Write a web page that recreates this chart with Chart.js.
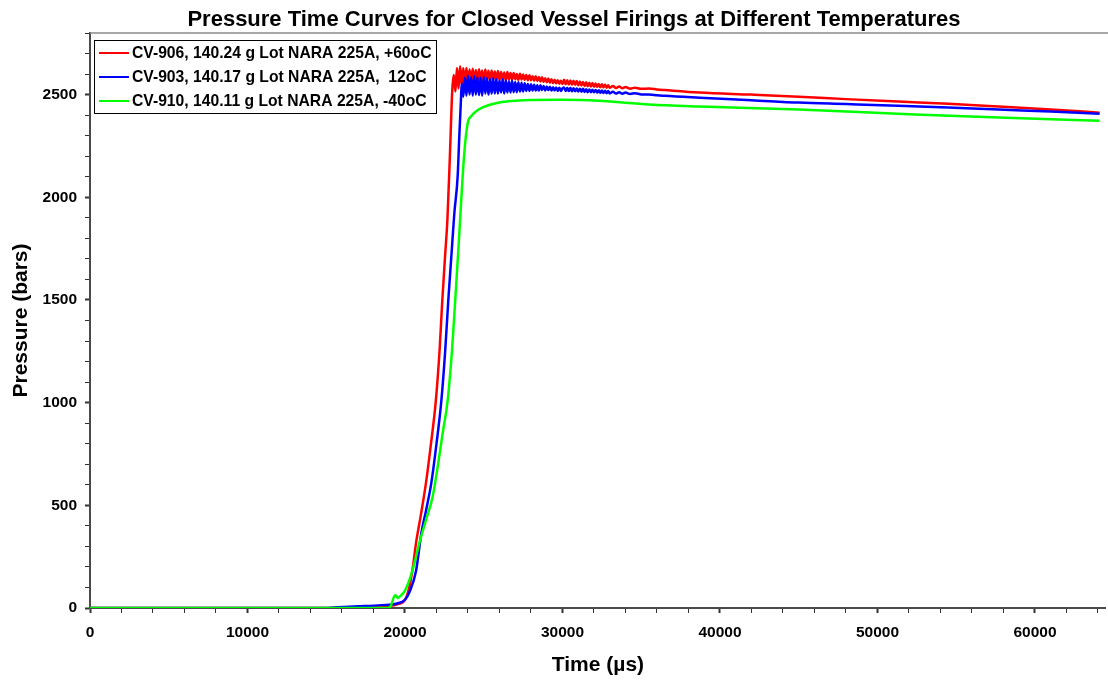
<!DOCTYPE html>
<html>
<head>
<meta charset="utf-8">
<script src="https://cdn.jsdelivr.net/npm/chart.js@4/dist/chart.umd.min.js"></script>
<style>
  body { margin: 0; background: #fff; }
  #wrap { width: 1108px; height: 680px; }
</style>
</head>
<body>
<div id="wrap"><canvas id="pressureChart" width="1108" height="680"></canvas></div>
<script>
// closed vessel firings, time in microseconds, pressure in bars
const chartTitle = "Pressure Time Curves for Closed Vessel Firings at Different Temperatures";
const seriesNames = [
    "CV-906, 140.24 g Lot NARA 225A, +60oC",
    "CV-903, 140.17 g Lot NARA 225A,  12oC",
    "CV-910, 140.11 g Lot NARA 225A, -40oC"
];

// tick marks every 2000 us, labelled every 10000 us
const xTickValues = [0, 2000, 4000, 6000, 8000, 10000, 12000, 14000, 16000, 18000, 20000,
    22000, 24000, 26000, 28000, 30000, 32000, 34000, 36000, 38000, 40000,
    42000, 44000, 46000, 48000, 50000, 52000, 54000, 56000, 58000, 60000, 62000, 64000];
const xLabelValues = [0, 10000, 20000, 30000, 40000, 50000, 60000];
const yLabelValues = [0, 500, 1000, 1500, 2000, 2500];

const redTime = [0, 15000, 17000, 18500, 19500, 20000, 20300, 20500, 20700, 21000, 21330, 21650, 21960,
    22200, 22370, 22550, 22690, 22850, 23000,
    23100, 23200, 23300, 23400, 23500, 23600, 23700, 23800, 23900, 24000,
    24100, 24200, 24300, 24400, 24500, 24600, 24700, 24800, 24900, 25000,
    25100, 25200, 25300, 25400, 25500, 25600, 25700, 25800, 25900, 26000,
    26100, 26200, 26300, 26400, 26500, 26600, 26700, 26800, 26900, 27000,
    27100, 27200, 27300, 27400, 27500, 27600, 27700, 27800, 27900, 28000,
    28100, 28200, 28300, 28400, 28500, 28600, 28700, 28800, 28900, 29000,
    29100, 29200, 29300, 29400, 29500, 29600, 29700, 29800, 29900, 30000,
    30100, 30200, 30300, 30400, 30500, 30600, 30700, 30800, 30900, 31000,
    31100, 31200, 31300, 31400, 31500, 31600, 31700, 31800, 31900, 32000,
    32100, 32200, 32300, 32400, 32500, 32600, 32700, 32800, 32900, 33000,
    33200, 33400, 33600, 33800, 34000, 34300, 34600, 35000, 35500, 36000,
    36500, 38700, 42000, 45000, 48000, 51300, 54500, 57700, 61000, 64100];
const redPressure = [0, 0, 3, 8, 18, 40, 110, 200, 316, 450, 608, 800, 1011,
    1260, 1500, 1720, 1887, 2200, 2520,
    2595, 2515, 2630, 2530, 2638, 2548, 2628, 2552, 2630, 2558,
    2622, 2560, 2626, 2564, 2620, 2562, 2624, 2568, 2618, 2565,
    2622, 2570, 2616, 2568, 2618, 2572, 2612, 2570, 2615, 2572,
    2610, 2572, 2608, 2570, 2610, 2574, 2605, 2572, 2605, 2575,
    2600, 2572, 2602, 2574, 2598, 2572, 2596, 2570, 2594, 2570,
    2590, 2568, 2590, 2566, 2586, 2564, 2584, 2562, 2580, 2560,
    2578, 2558, 2575, 2556, 2572, 2555, 2570, 2553, 2568, 2552,
    2572, 2550, 2570, 2549, 2569, 2548, 2567, 2547, 2566, 2545,
    2564, 2544, 2562, 2542, 2560, 2541, 2558, 2540, 2556, 2538,
    2554, 2537, 2552, 2536, 2550, 2535, 2548, 2534, 2546, 2533,
    2542, 2532, 2540, 2531, 2537, 2529, 2534, 2528, 2530, 2525,
    2522, 2510, 2500, 2490, 2478, 2466, 2455, 2442, 2428, 2412];

const blueTime = [0, 15000, 15500, 17000, 18500, 19500, 20000, 20300, 20700, 21040, 21350, 21670, 22000,
    22310, 22550, 22750, 22950, 23130, 23340, 23450, 23550,
    23600, 23700, 23800, 23900, 24000,
    24100, 24200, 24300, 24400, 24500, 24600, 24700, 24800, 24900, 25000,
    25100, 25200, 25300, 25400, 25500, 25600, 25700, 25800, 25900, 26000,
    26100, 26200, 26300, 26400, 26500, 26600, 26700, 26800, 26900, 27000,
    27100, 27200, 27300, 27400, 27500, 27600, 27700, 27800, 27900, 28000,
    28100, 28200, 28300, 28400, 28500, 28600, 28700, 28800, 28900, 29000,
    29100, 29200, 29300, 29400, 29500, 29600, 29700, 29800, 29900, 30000,
    30100, 30200, 30300, 30400, 30500, 30600, 30700, 30800, 30900, 31000,
    31100, 31200, 31300, 31400, 31500, 31600, 31700, 31800, 31900, 32000,
    32100, 32200, 32300, 32400, 32500, 32600, 32700, 32800, 32900, 33000,
    33200, 33400, 33600, 33800, 34000, 34300, 34600, 35000, 35500, 36000,
    36500, 38700, 42000, 45000, 48000, 51300, 54500, 57700, 61000, 64100];
const bluePressure = [0, 0, 3, 8, 14, 22, 40, 80, 180, 365, 480, 608, 800,
    1011, 1250, 1500, 1720, 1920, 2098, 2300, 2470,
    2555, 2490, 2582, 2495, 2592,
    2500, 2586, 2495, 2590, 2500, 2585, 2498, 2582, 2495, 2586,
    2505, 2580, 2500, 2576, 2505, 2580, 2505, 2575, 2505, 2570,
    2510, 2575, 2505, 2570, 2510, 2565, 2510, 2568, 2512, 2562,
    2512, 2560, 2515, 2558, 2515, 2555, 2518, 2552, 2518, 2550,
    2520, 2548, 2520, 2545, 2520, 2545, 2522, 2542, 2520, 2540,
    2522, 2538, 2520, 2536, 2520, 2535, 2518, 2533, 2518, 2530,
    2535, 2518, 2534, 2517, 2533, 2516, 2531, 2516, 2530, 2515,
    2529, 2514, 2528, 2513, 2526, 2512, 2525, 2512, 2524, 2511,
    2523, 2510, 2521, 2509, 2520, 2508, 2519, 2507, 2517, 2506,
    2514, 2505, 2512, 2504, 2510, 2503, 2507, 2501, 2500, 2497,
    2494, 2485, 2473, 2461, 2454, 2446, 2437, 2427, 2418, 2407];

const greenTime = [0, 18900, 19100, 19300, 19400, 19550, 19700, 20000, 20300, 20600, 20910, 21300, 21750,
    22100, 22390, 22710, 23000, 23190, 23400, 23570, 23750, 23900, 24020, 24200, 24500,
    25000, 26000, 27000, 28000, 30000, 32300, 35500, 38700, 45000, 51300, 57700, 64100];
const greenPressure = [0, 0, 10, 55, 62, 48, 58, 85, 140, 220, 316, 420, 540,
    700, 851, 1011, 1270, 1500, 1760, 1985, 2200, 2320, 2373, 2395, 2418,
    2440, 2462, 2470, 2474, 2475, 2470, 2452, 2442, 2427, 2407, 2388, 2373];

function toPoints(times, values) {
    return times.map(function (t, i) { return { x: t, y: values[i] }; });
}

const fontFamily = '"Liberation Sans", Arial, sans-serif';
Chart.defaults.font.family = fontFamily;
Chart.defaults.color = '#000';

// white page, title and the top frame line
const framePlugin = {
    id: 'frame',
    beforeDraw(chart) {
        const ctx = chart.ctx;
        ctx.save();
        ctx.fillStyle = '#fff';
        ctx.fillRect(0, 0, chart.width, chart.height);
        ctx.restore();
    },
    afterDraw(chart) {
        const ctx = chart.ctx;
        const area = chart.chartArea;
        ctx.save();
        ctx.strokeStyle = '#8a8a8a';
        ctx.lineWidth = 1.5;
        ctx.beginPath();
        ctx.moveTo(area.left, area.top);
        ctx.lineTo(chart.width, area.top);
        ctx.stroke();

        ctx.fillStyle = '#000';
        ctx.font = 'bold 22px ' + fontFamily;
        ctx.textAlign = 'center';
        ctx.textBaseline = 'alphabetic';
        ctx.fillText(chartTitle, 574, 26);
        ctx.restore();
    }
};

// boxed legend in the upper left corner of the plot
const boxLegendPlugin = {
    id: 'boxLegend',
    afterDatasetsDraw(chart) {
        const ctx = chart.ctx;
        const left = 94, top = 40, width = 342, height = 73;
        ctx.save();
        ctx.fillStyle = '#fff';
        ctx.fillRect(left, top, width, height);
        ctx.strokeStyle = '#000';
        ctx.lineWidth = 1;
        ctx.strokeRect(left + 0.5, top + 0.5, width, height);
        ctx.font = 'bold 15.7px ' + fontFamily;
        ctx.textAlign = 'left';
        ctx.textBaseline = 'middle';
        chart.data.datasets.forEach(function (ds, i) {
            const y = top + 13 + i * 24;
            ctx.strokeStyle = ds.borderColor;
            ctx.lineWidth = 2;
            ctx.beginPath();
            ctx.moveTo(left + 5, y);
            ctx.lineTo(left + 35, y);
            ctx.stroke();
            ctx.fillStyle = '#000';
            ctx.fillText(ds.label, left + 38, y + 1);
        });
        ctx.restore();
    }
};

new Chart(document.getElementById("pressureChart"), {
    type: "line",
    data: {
        datasets: [{
            label: seriesNames[0],
            data: toPoints(redTime, redPressure),
            borderColor: '#ff0000',
            order: 3
        },
        {
            label: seriesNames[1],
            data: toPoints(blueTime, bluePressure),
            borderColor: '#0000ff',
            order: 2
        },
        {
            label: seriesNames[2],
            data: toPoints(greenTime, greenPressure),
            borderColor: '#00ff00',
            order: 1
        }]
    },
    options: {
        responsive: false,
        animation: false,
        layout: { padding: { top: 33, right: 1, left: 0, bottom: 0 } },
        elements: {
            line: { borderWidth: 2.5, cubicInterpolationMode: 'monotone' },
            point: { radius: 0 }
        },
        plugins: {
            legend: { display: false },
            title: { display: false },
            tooltip: { enabled: false }
        },
        scales: {
            x: {
                type: 'linear',
                min: 0,
                max: 64500,
                afterBuildTicks: function (scale) {
                    scale.ticks = xTickValues.map(function (v) { return { value: v }; });
                },
                afterFit: function (scale) { scale.height = 72; },
                border: { display: true, color: '#4a4a4a', width: 2 },
                grid: {
                    drawOnChartArea: false,
                    drawTicks: true,
                    tickLength: 5,
                    tickColor: '#333',
                    tickWidth: function (c) { return c.tick && xLabelValues.includes(c.tick.value) ? 2 : 1; }
                },
                ticks: {
                    autoSkip: false,
                    maxRotation: 0,
                    minRotation: 0,
                    padding: 10,
                    color: '#000',
                    font: { size: 15.5, weight: 'bold' },
                    callback: function (v) { return xLabelValues.includes(v) ? String(v) : ''; }
                },
                title: {
                    display: true,
                    text: 'Time (µs)',
                    color: '#000',
                    font: { size: 21, weight: 'bold' },
                    padding: { top: 0, bottom: 2 }
                }
            },
            y: {
                min: 0,
                max: 2800,
                afterFit: function (scale) { scale.width = 90; },
                border: { display: true, color: '#4a4a4a', width: 2 },
                grid: {
                    drawOnChartArea: false,
                    drawTicks: true,
                    tickLength: 5,
                    tickColor: '#333',
                    tickWidth: function (c) { return c.tick && yLabelValues.includes(c.tick.value) ? 2 : 1; }
                },
                ticks: {
                    stepSize: 100,
                    autoSkip: false,
                    padding: 8,
                    color: '#000',
                    font: { size: 15.5, weight: 'bold' },
                    callback: function (v) { return yLabelValues.includes(v) ? String(v) : ''; }
                },
                title: {
                    display: true,
                    text: 'Pressure (bars)',
                    color: '#000',
                    font: { size: 21, weight: 'bold' },
                    padding: { top: 9, bottom: 0 }
                }
            }
        }
    },
    plugins: [framePlugin, boxLegendPlugin]
});
</script>
</body>
</html>
